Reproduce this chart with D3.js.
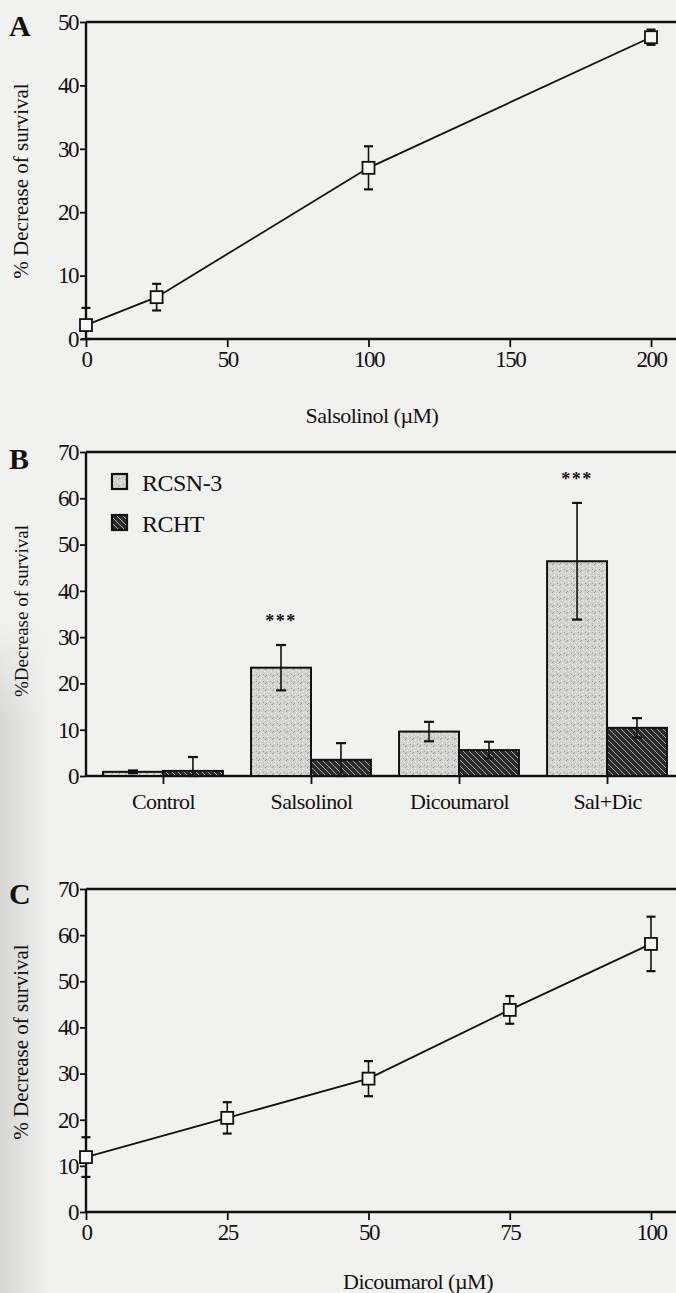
<!DOCTYPE html>
<html>
<head>
<meta charset="utf-8">
<script src="https://cdn.jsdelivr.net/npm/d3@7"></script>
<style>
  body { margin: 0; background: #f1f1ef; }
  svg { display: block; }
  text { font-family: "Liberation Serif", "DejaVu Serif", serif; fill: #111; }
</style>
</head>
<body>
<svg id="fig"></svg>
<script>
/* global d3 */
// panel A: salsolinol dose
const salDose = [0, 25, 100, 200]
const salMean = [2.2, 6.6, 27, 47.6]
const salErr = [2.7, 2.1, 3.4, 1.2]

// panel B: cell lines x treatment
const treatments = ['Control', 'Salsolinol', 'Dicoumarol', 'Sal+Dic']
const cellLines = ['RCSN-3', 'RCHT']
const rcsnMean = [0.9, 23.4, 9.6, 46.4]
const rcsnErr = [0.3, 4.9, 2.1, 12.6]
const rchtMean = [1.1, 3.5, 5.6, 10.4]
const rchtErr = [3.0, 3.6, 1.8, 2.1]
const significant = ['Salsolinol', 'Sal+Dic']

// panel C: dicoumarol dose
const dicDose = [0, 25, 50, 75, 100]
const dicMean = [11.9, 20.4, 28.9, 43.8, 58.1]
const dicErr = [4.3, 3.4, 3.8, 3.0, 5.9]

const ticksA = { x: [0, 50, 100, 150, 200], y: [0, 10, 20, 30, 40, 50] }
const ticksB = [0, 10, 20, 30, 40, 50, 60, 70]
const ticksC = { x: [0, 25, 50, 75, 100], y: [0, 10, 20, 30, 40, 50, 60, 70] }

const W = 676
const H = 1293
const left = 86
const right = 676

const svg = d3.select('#fig').attr('width', W).attr('height', H)

// scanned page shading on the left edge
const defs = svg.append('defs')
const grad = defs.append('linearGradient').attr('id', 'edge')
grad.append('stop').attr('offset', '0%').attr('stop-color', '#d6d6d4')
grad.append('stop').attr('offset', '100%').attr('stop-color', '#f1f1ef')
const vfade = defs.append('linearGradient').attr('id', 'vfade')
  .attr('x1', 0).attr('x2', 0).attr('y1', 0).attr('y2', 1)
vfade.append('stop').attr('offset', '0%').attr('stop-color', '#fff').attr('stop-opacity', 0)
vfade.append('stop').attr('offset', '15%').attr('stop-color', '#fff').attr('stop-opacity', 1)
vfade.append('stop').attr('offset', '100%').attr('stop-color', '#fff').attr('stop-opacity', 1)
defs.append('mask').attr('id', 'edgeMask')
  .append('rect').attr('x', 0).attr('y', 620).attr('width', 50).attr('height', H - 620)
  .attr('fill', 'url(#vfade)')
svg.append('rect').attr('x', 0).attr('y', 620).attr('width', 50).attr('height', H - 620)
  .attr('fill', 'url(#edge)').attr('mask', 'url(#edgeMask)')

// fill patterns
const stip = defs.append('pattern').attr('id', 'stipple')
  .attr('patternUnits', 'userSpaceOnUse').attr('width', 7).attr('height', 7)
stip.append('rect').attr('width', 7).attr('height', 7).attr('fill', '#d2d2d0')
;[[1, 1], [4, 2], [2, 5], [6, 4], [5, 6], [0, 3]].forEach(([x, y], i) => {
  stip.append('rect').attr('x', x).attr('y', y).attr('width', 1).attr('height', 1)
    .attr('fill', i % 2 ? '#9a9a98' : '#f4f4f2')
})
const hatch = defs.append('pattern').attr('id', 'hatch')
  .attr('patternUnits', 'userSpaceOnUse').attr('width', 6).attr('height', 6)
hatch.append('rect').attr('width', 6).attr('height', 6).attr('fill', '#2b2b2b')
hatch.append('path').attr('d', 'M0,0 L6,6 M-3,3 L3,9 M3,-3 L9,3')
  .attr('stroke', '#a8a8a8').attr('stroke-width', 1)

function frame (g, top, bottom) {
  g.append('line').attr('x1', left).attr('x2', right).attr('y1', top).attr('y2', top)
    .attr('stroke', '#111').attr('stroke-width', 2.4)
  g.append('line').attr('x1', left).attr('x2', right).attr('y1', bottom).attr('y2', bottom)
    .attr('stroke', '#111').attr('stroke-width', 2.4)
  g.append('line').attr('x1', left).attr('x2', left).attr('y1', top).attr('y2', bottom)
    .attr('stroke', '#111').attr('stroke-width', 2.4)
}

function yAxis (g, yScale, ticks) {
  const ax = g.append('g').attr('transform', `translate(${left},0)`)
    .call(d3.axisLeft(yScale).tickValues(ticks).tickSize(6).tickPadding(2))
  ax.select('.domain').remove()
  ax.selectAll('line').attr('stroke', '#111').attr('stroke-width', 1.8)
  ax.selectAll('text').attr('font-size', 23).attr('font-family', 'Liberation Serif')
    .attr('fill', '#111').attr('letter-spacing', -1.5)
}

function xAxis (g, xScale, ticks, y) {
  const ax = g.append('g').attr('transform', `translate(0,${y})`)
    .call(d3.axisBottom(xScale).tickValues(ticks).tickSize(8).tickPadding(4))
  ax.select('.domain').remove()
  ax.selectAll('line').attr('stroke', '#111').attr('stroke-width', 1.8)
  ax.selectAll('text').attr('font-size', 23).attr('font-family', 'Liberation Serif')
    .attr('fill', '#111').attr('letter-spacing', -1.5)
  return ax
}

function yLabel (g, text, cy, family, size) {
  g.append('text').attr('transform', `translate(28,${cy}) rotate(-90)`)
    .attr('text-anchor', 'middle').attr('font-size', size)
    .attr('font-family', family).text(text)
}

function panelLetter (g, text, y) {
  g.append('text').attr('x', 9).attr('y', y).attr('font-size', 30)
    .attr('font-weight', 'bold').text(text)
}

function errBar (g, x, yTop, yBot, cap) {
  g.append('line').attr('x1', x).attr('x2', x).attr('y1', yTop).attr('y2', yBot)
    .attr('stroke', '#111').attr('stroke-width', 1.6)
  ;[yTop, yBot].forEach(yy => {
    g.append('line').attr('x1', x - cap).attr('x2', x + cap).attr('y1', yy).attr('y2', yy)
      .attr('stroke', '#111').attr('stroke-width', 2.2)
  })
}

function linePanel (doses, means, errs, xDom, yDom, xTicks, yTicks, top, bottom) {
  const g = svg.append('g')
  const x = d3.scaleLinear().domain(xDom).range([left, 651])
  const y = d3.scaleLinear().domain(yDom).range([bottom, top])
  frame(g, top, bottom)
  yAxis(g, y, yTicks)
  xAxis(g, x, xTicks, bottom)
  const pts = doses.map((d, i) => ({ d, m: means[i], e: errs[i] }))
  g.append('path').datum(pts)
    .attr('d', d3.line().x(p => x(p.d)).y(p => y(p.m)))
    .attr('fill', 'none').attr('stroke', '#111').attr('stroke-width', 1.8)
  pts.forEach(p => errBar(g, x(p.d), y(p.m + p.e), y(Math.max(0, p.m - p.e)), 4.5))
  g.selectAll('rect.pt').data(pts).enter().append('rect')
    .attr('class', 'pt')
    .attr('x', p => x(p.d) - 6).attr('y', p => y(p.m) - 6)
    .attr('width', 12).attr('height', 12)
    .attr('fill', '#f6f6f4').attr('stroke', '#111').attr('stroke-width', 1.8)
  return g
}

// ---- Panel A ----
const gA = linePanel(salDose, salMean, salErr, [0, 200], [0, 50], ticksA.x, ticksA.y, 22, 339)
panelLetter(gA, 'A', 36)
yLabel(gA, '% Decrease of survival', 181, 'Liberation Serif', 21)
gA.append('text').attr('x', 372).attr('y', 423).attr('text-anchor', 'middle')
  .attr('font-size', 22).attr('letter-spacing', -0.5).text('Salsolinol (µM)')

// ---- Panel B ----
const gB = svg.append('g')
const topB = 452
const botB = 776
const xB = d3.scaleBand().domain(treatments).range([left, 684])
  .paddingInner(0.19).paddingOuter(0.115)
const xSub = d3.scaleBand().domain(cellLines).range([0, xB.bandwidth()])
const yB = d3.scaleLinear().domain([0, 70]).range([botB, topB])
frame(gB, topB, botB)
yAxis(gB, yB, ticksB)
const catAxis = d3.scalePoint().domain(treatments)
  .range([xB('Control') + xB.bandwidth() / 2, xB('Sal+Dic') + xB.bandwidth() / 2])
const axB = xAxis(gB, catAxis, treatments, botB)
axB.selectAll('text').attr('dy', '0.95em').attr('letter-spacing', -0.6).attr('font-size', 22)

const barRows = treatments.map((t, i) => [
  { t, line: 'RCSN-3', m: rcsnMean[i], e: rcsnErr[i] },
  { t, line: 'RCHT', m: rchtMean[i], e: rchtErr[i] }
]).flat()

gB.selectAll('rect.bar').data(barRows).enter().append('rect')
  .attr('class', 'bar')
  .attr('x', d => xB(d.t) + xSub(d.line))
  .attr('y', d => yB(d.m))
  .attr('width', xSub.bandwidth())
  .attr('height', d => botB - yB(d.m))
  .attr('fill', d => d.line === 'RCSN-3' ? 'url(#stipple)' : 'url(#hatch)')
  .attr('stroke', '#111').attr('stroke-width', 2)

barRows.forEach(d => {
  const cx = xB(d.t) + xSub(d.line) + xSub.bandwidth() / 2
  errBar(gB, cx, yB(d.m + d.e), yB(Math.max(0, d.m - d.e)), 5)
})

significant.forEach(t => {
  const i = treatments.indexOf(t)
  const cx = xB(t) + xSub('RCSN-3') + xSub.bandwidth() / 2
  gB.append('text').attr('x', cx).attr('y', yB(rcsnMean[i] + rcsnErr[i]) - 18)
    .attr('text-anchor', 'middle').attr('font-size', 18).attr('font-weight', 'bold')
    .attr('letter-spacing', 1.5).text('***')
})

const legend = gB.append('g').attr('transform', 'translate(112,482)')
cellLines.forEach((name, i) => {
  const row = legend.append('g').attr('transform', `translate(0,${i * 41})`)
  row.append('rect').attr('x', 0).attr('y', -8).attr('width', 15).attr('height', 15)
    .attr('fill', i === 0 ? 'url(#stipple)' : 'url(#hatch)')
    .attr('stroke', '#111').attr('stroke-width', 2.2)
  row.append('text').attr('x', 30).attr('y', 9).attr('font-size', 24)
    .attr('letter-spacing', -0.5).text(name)
})

panelLetter(gB, 'B', 469)
yLabel(gB, '%Decrease of survival', 611, 'Liberation Sans', 19)

// ---- Panel C ----
const gC = linePanel(dicDose, dicMean, dicErr, [0, 100], [0, 70], ticksC.x, ticksC.y, 889, 1212)
panelLetter(gC, 'C', 904)
yLabel(gC, '% Decrease of survival', 1042, 'Liberation Serif', 21)
gC.append('text').attr('x', 418).attr('y', 1289).attr('text-anchor', 'middle')
  .attr('font-size', 22).attr('letter-spacing', -0.5).text('Dicoumarol (µM)')
</script>
</body>
</html>
